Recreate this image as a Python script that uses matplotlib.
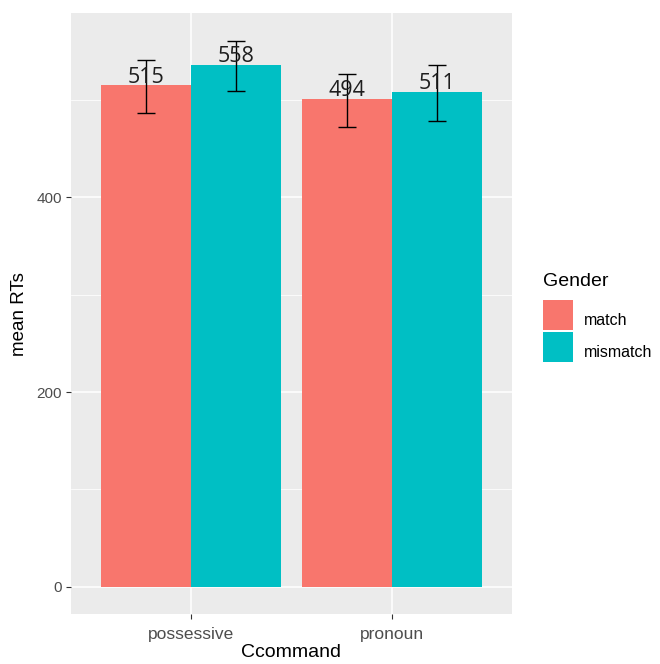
import matplotlib
matplotlib.use("Agg")
import matplotlib.pyplot as plt
import numpy as np
from matplotlib.patches import Patch, Rectangle
from matplotlib.ticker import MultipleLocator

categories = ["possessive", "pronoun"]
groups = ["match", "mismatch"]
colors = ["#F8766D", "#00BFC4"]
means = {"match": [515, 501], "mismatch": [536, 508]}
lower = {"match": [487, 472], "mismatch": [509, 478]}
upper = {"match": [541, 527], "mismatch": [561, 536]}
labels = {"match": ["515", "494"], "mismatch": ["558", "511"]}
yticks = [0, 200, 400]


class FullKeyHandler:
    """Legend key filling the whole handle box, baseline ~5 px above its bottom."""
    def legend_artist(self, legend, orig_handle, fontsize, handlebox):
        handlebox.ydescent = 3.6
        x0, y0 = handlebox.xdescent, handlebox.ydescent
        w, h = handlebox.width, handlebox.height
        r = Rectangle((-x0, -y0), w, h, facecolor=orig_handle.get_facecolor(),
                      edgecolor="none", transform=handlebox.get_transform())
        handlebox.add_artist(r)
        return r


fig = plt.figure(figsize=(6.6, 6.64), dpi=100)
ax = fig.add_axes([71/660, 1-614/664, (512-71)/660, (614-13.3)/664])
ax.set_facecolor("#EBEBEB")
for s in ax.spines.values():
    s.set_visible(False)

x = np.arange(1, len(categories) + 1)
bw = 0.45
for i, g in enumerate(groups):
    xs = x + (i - 0.5) * bw
    ax.bar(xs, means[g], width=bw, color=colors[i], zorder=2)
    m = np.array(means[g]); lo = np.array(lower[g]); hi = np.array(upper[g])
    ax.errorbar(xs, m, yerr=[m - lo, hi - m], fmt="none", ecolor="black",
                elinewidth=1.0, capsize=6.7, capthick=1.0, zorder=3)
    for xx, yy, lab in zip(xs, m, labels[g]):
        ax.annotate(lab, (xx, yy), xytext=(0, 2), textcoords="offset points",
                    ha="center", va="baseline", fontsize=15.5, color="#1E1E1E",
                    family="Open Sans", zorder=4)

ymax = max(max(upper[g]) for g in groups)
ax.set_ylim(-0.05 * ymax, ymax * 1.05)
ax.set_xlim(0.4, 2.6)
ax.set_xticks(x)
ax.set_xticklabels(categories)
ax.set_yticks(yticks)
ax.yaxis.set_minor_locator(MultipleLocator(100))
ax.grid(which="major", color="white", linewidth=1.1, zorder=0)
ax.grid(which="minor", axis="y", color="white", linewidth=0.55, zorder=0)
ax.set_axisbelow(True)
ax.tick_params(which="major", length=3.5, width=0.8, color="#333333",
               labelcolor="#4D4D4D", labelsize=11, pad=3)
ax.tick_params(axis="x", labelsize=12.5, pad=6)
ax.tick_params(which="minor", length=0)
for t in ax.get_xticklabels() + ax.get_yticklabels():
    t.set_family("Liberation Sans")
ax.set_xlabel("Ccommand", fontsize=14, family="Liberation Sans", labelpad=1)
ax.set_ylabel("mean RTs", fontsize=13.5, family="Liberation Sans", labelpad=6)

handles = [Patch(facecolor=c) for c in colors]
leg = fig.legend(handles, groups, title="Gender", loc="upper left",
                 bbox_to_anchor=(543/660, 1 - 273/664), frameon=False,
                 prop={"family": "Liberation Sans", "size": 11.5},
                 title_fontproperties={"family": "Liberation Sans", "size": 14},
                 handlelength=1.88, handleheight=2.513, labelspacing=0.13,
                 handletextpad=0.7, borderpad=0, borderaxespad=0,
                 handler_map={Patch: FullKeyHandler()})
leg._legend_box.align = "left"
leg._legend_box.sep = 7

fig.savefig("out.png", dpi=100)
